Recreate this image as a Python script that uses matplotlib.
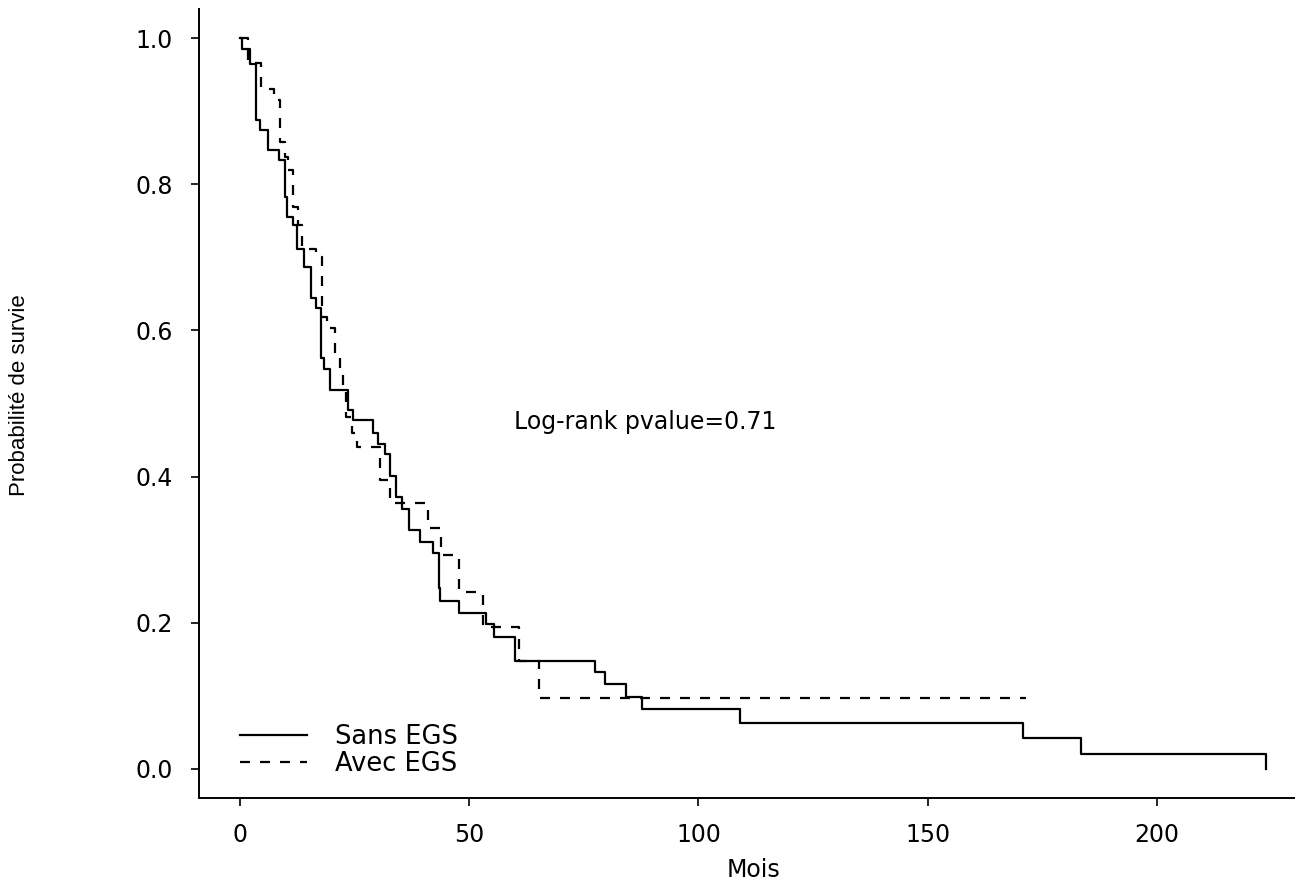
import matplotlib
matplotlib.use("Agg")
import matplotlib.pyplot as plt

# Kaplan-Meier steps (time in months, survival)
sans_t = [0, 0.5, 2.2, 3.4, 4.4, 6.0, 8.4, 9.8, 10.2, 11.6, 12.4, 13.9, 15.5, 16.6,
          17.7, 18.4, 19.6, 23.6, 24.7, 28.9, 30.0, 31.7, 32.8, 34.0, 35.3, 36.9,
          39.3, 42.0, 43.3, 43.7, 47.8, 53.6, 55.3, 60.0, 77.4, 79.6, 84.2, 87.6,
          109.0, 170.7, 183.4, 223.9]
sans_s = [1.0, 0.985, 0.965, 0.888, 0.874, 0.847, 0.833, 0.783, 0.755, 0.744, 0.712,
          0.687, 0.645, 0.631, 0.562, 0.547, 0.518, 0.491, 0.477, 0.460, 0.445, 0.431,
          0.401, 0.372, 0.356, 0.327, 0.311, 0.296, 0.247, 0.230, 0.213, 0.198, 0.180,
          0.148, 0.132, 0.116, 0.098, 0.082, 0.0625, 0.042, 0.0205, 0.0]

avec_t = [0, 1.8, 4.5, 7.5, 8.7, 9.8, 10.4, 11.6, 12.6, 13.6, 16.6, 17.8, 18.9, 20.7,
          21.8, 22.5, 23.2, 24.5, 25.5, 30.5, 32.7, 41.1, 43.8, 47.8, 52.9, 60.8,
          65.1, 171.5]
avec_s = [1.0, 0.966, 0.931, 0.915, 0.858, 0.838, 0.82, 0.769, 0.744, 0.712, 0.70,
          0.619, 0.603, 0.569, 0.548, 0.518, 0.482, 0.46, 0.441, 0.395, 0.364, 0.329,
          0.293, 0.242, 0.194, 0.147, 0.0965, 0.0965]

x_ticks = [0, 50, 100, 150, 200]
y_ticks = [0.0, 0.2, 0.4, 0.6, 0.8, 1.0]
y_tick_labels = ["0.0", "0.2", "0.4", "0.6", "0.8", "1.0"]

W, H = 1295, 883
fig = plt.figure(figsize=(W / 100, H / 100), dpi=100)
# plot region in pixels: left 199, right 1308 (past the edge), top 9, bottom 798
ax = fig.add_axes([199 / W, (H - 798) / H, (1308 - 199) / W, (798 - 9) / H])

ax.step(sans_t, sans_s, where="post", color="black", lw=1.6, label="Sans EGS")
ax.step(avec_t, avec_s, where="post", color="black", lw=1.6,
        linestyle=(0, (4.5, 4.5)), label="Avec EGS")

ax.set_xlim(-8.96, 232.96)
ax.set_ylim(-0.04, 1.04)

for side in ["top", "right"]:
    ax.spines[side].set_visible(False)
for side in ["left", "bottom"]:
    ax.spines[side].set_linewidth(1.4)

ax.set_xticks(x_ticks)
ax.set_xticklabels([str(v) for v in x_ticks])
ax.set_yticks(y_ticks)
ax.set_yticklabels(y_tick_labels)
ax.tick_params(direction="out", length=6, width=1.2, labelsize=17)
ax.tick_params(axis="x", pad=12)
ax.tick_params(axis="y", pad=13)
for lab in ax.get_xticklabels() + ax.get_yticklabels():
    lab.set_family("DejaVu Sans")

ax.set_xlabel("Mois", fontsize=17, family="DejaVu Sans", va="top")
ax.xaxis.set_label_coords(0.5, -0.076)
ax.set_ylabel("Probabilité de survie", fontsize=16, family="Liberation Sans")
ax.yaxis.set_label_coords(-0.152, 0.51)

ax.text(88.3, 0.475, "Log-rank pvalue=0.71", ha="center", va="center",
        fontsize=17, family="DejaVu Sans")

leg = ax.legend(loc="upper left", bbox_to_anchor=(0.037, 0.094), frameon=False,
                prop={"family": "DejaVu Sans", "size": 18.5}, borderpad=0,
                borderaxespad=0, handlelength=2.6, handletextpad=1.1,
                labelspacing=0.05)

fig.savefig("out.png", dpi=100)
